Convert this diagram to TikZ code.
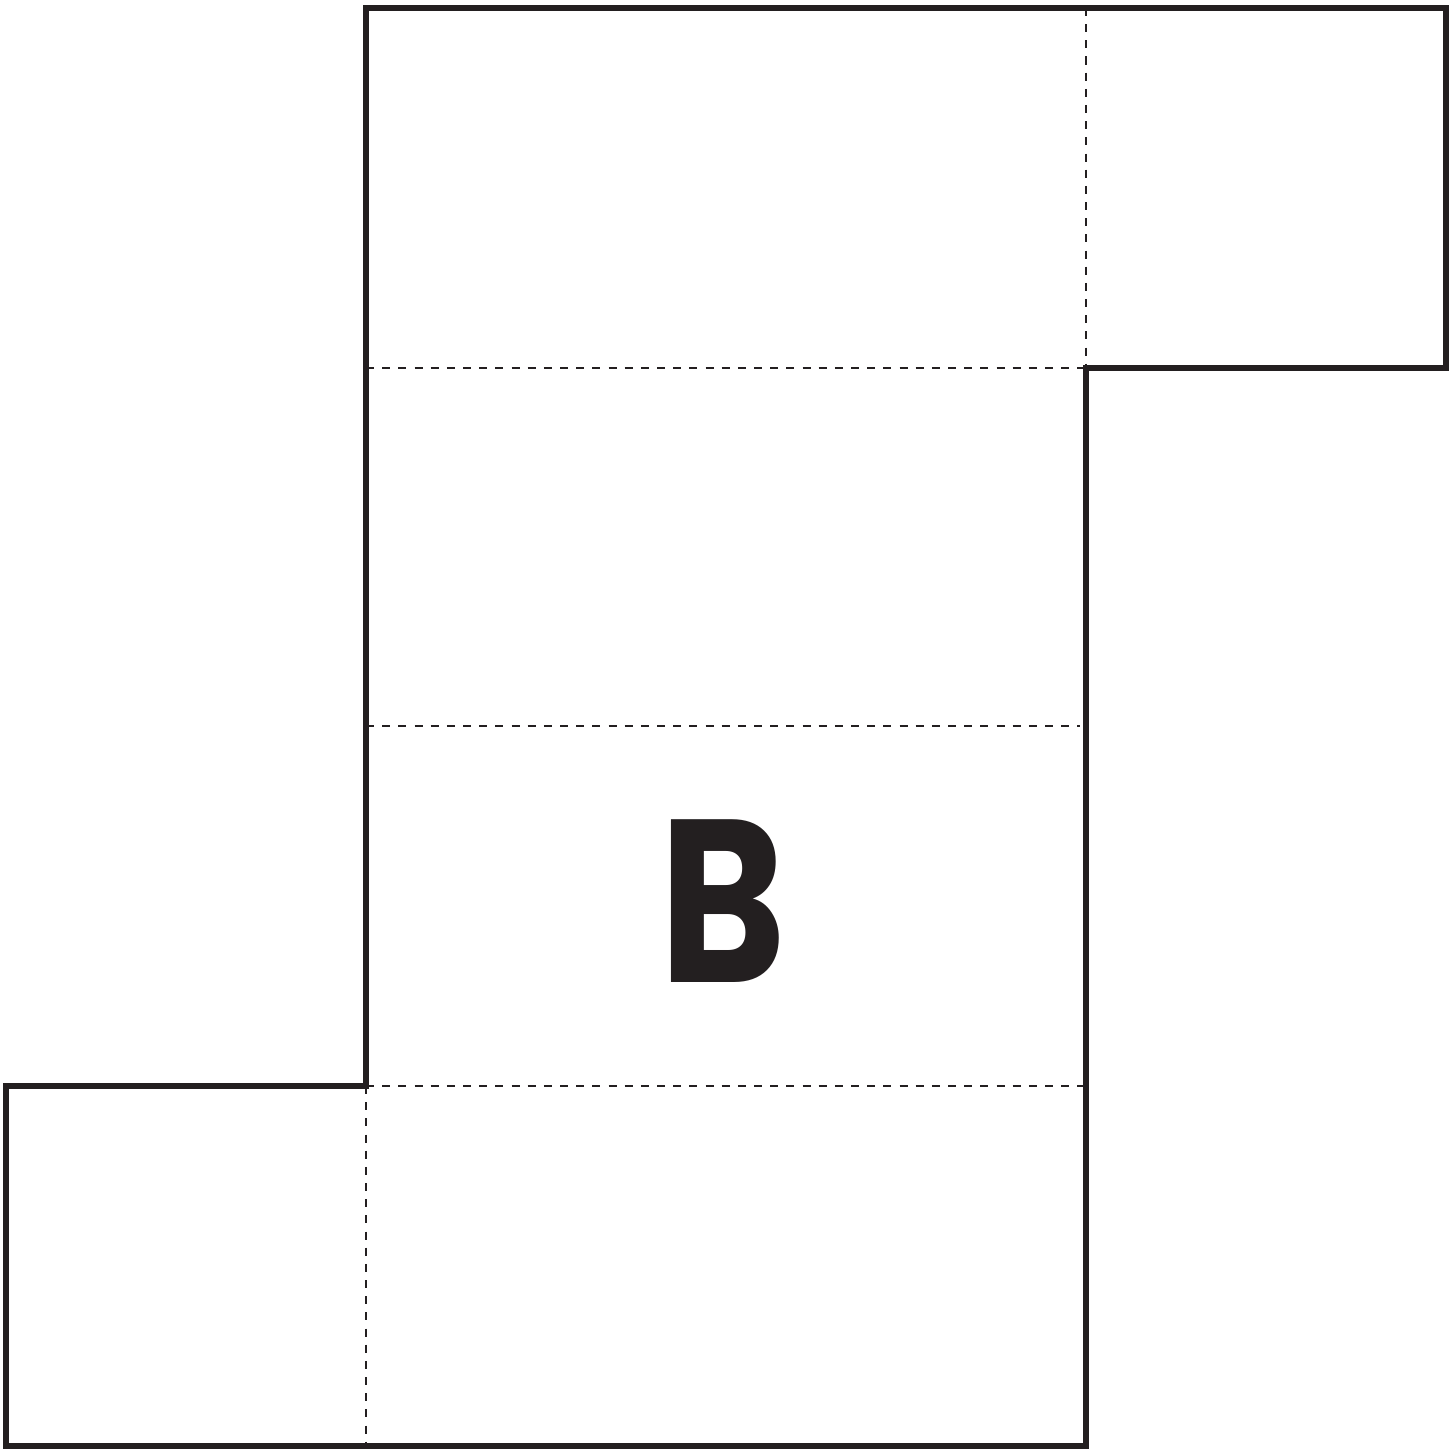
\documentclass[tikz,border=0pt]{standalone}
\usepackage{fontspec}
\usepackage{xcolor}
\newfontfamily\letterfont{Poppins}[UprightFont=* Bold]
\definecolor{net_black}{RGB}{35, 31, 32}
\usepackage{tikz}
\usetikzlibrary{positioning}

\begin{document}
\begin{tikzpicture}[
            cut/.style={draw=net_black, line width=1.6pt, line join=miter},
            fold/.style={draw=net_black, line width=0.6pt, dash pattern=on 2.3pt off 2.3pt},
            lbl/.style={text=net_black, inner sep=0pt, xscale=0.83,
                        font=\letterfont\fontsize{66}{66}\selectfont}]
            \useasboundingbox (0,0) rectangle (14.55,14.48);
            % fold lines
            \draw[fold] (3.66,10.80) -- (10.86,10.80);
            \draw[fold] (3.66,7.22) -- (10.80,7.22);
            \draw[fold] (3.66,3.62) -- (10.86,3.62);
            \draw[fold] (10.86,14.40) -- (10.86,10.80);
            \draw[fold] (3.66,3.62) -- (3.66,0.02);
            % outline
            \draw[cut] (3.66,14.40) -- (14.46,14.40) -- (14.46,10.80)
              -- (10.86,10.80) -- (10.86,0.02) -- (0.06,0.02) -- (0.06,3.62)
              -- (3.66,3.62) -- cycle;
            \node[lbl, anchor=base] (side) at (7.23,4.66) {B};
          \end{tikzpicture}
\end{document}
